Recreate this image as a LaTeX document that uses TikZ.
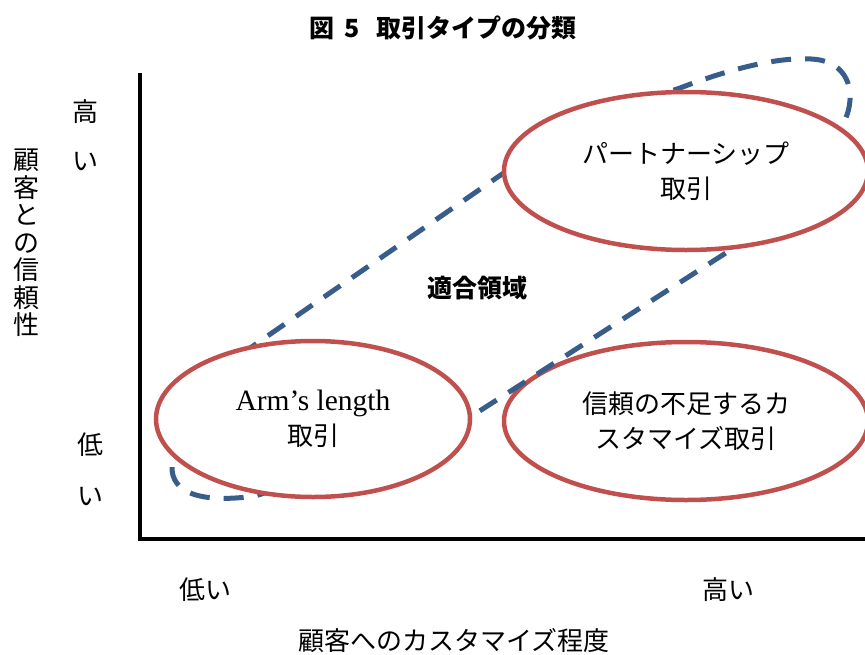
\documentclass[tikz,border=0pt]{standalone}
\usepackage{fontspec}
\usetikzlibrary{shapes.geometric}
\newfontfamily\jp{Noto Sans CJK JP}
\newfontfamily\lat{Liberation Serif}
\definecolor{ered}{HTML}{C0504D}
\definecolor{eblue}{HTML}{385D8A}
\begin{document}
\begin{tikzpicture}[x=1pt,y=-1pt,
  lbl/.style={font=\jp\fontsize{26}{35}\selectfont, inner sep=0pt, align=center},
  ttl/.style={font=\jp\bfseries\fontsize{25}{30}\selectfont, inner sep=0pt},
  oval/.style={ellipse, draw=ered, line width=4.5pt, fill=white, inner sep=0pt, align=center, font=\jp\fontsize{26}{35}\selectfont},
  fitline/.style={draw=eblue, line width=5pt, dash pattern=on 20pt off 14pt}]
\useasboundingbox (0,0) rectangle (865,654);
% axes
\coordinate (Ytop) at (140,73);
\coordinate (O) at (140,539);
\coordinate (Xend) at (868,539);
\draw[line width=4pt] (Ytop) -- (O) -- (Xend);
% lower right ellipse (under the dashed loop)
\node[oval, minimum width=364pt, minimum height=158pt] (lowtrust) at (686,421) {信頼の不足するカ\\スタマイズ取引};
% dashed fit region
\draw[fitline] (240,355) -- (505,172)
  .. controls (570,127) and (630,105) .. (680,88)
  .. controls (740,65) and (790,55) .. (820,60)
  .. controls (850,66) and (856,95) .. (845,120)
  .. controls (830,160) and (778,220) .. (718,258)
  -- (478,412) -- (300,482) -- (255,496)
  .. controls (205,503) and (170,495) .. (172,465) -- cycle;
% ellipses above the dashed loop
\node[oval, minimum width=314pt, minimum height=156pt] (arm) at (313,419) {{\lat\fontsize{29.5}{33}\selectfont Arm’s length}\\取引};
\node[oval, minimum width=364pt, minimum height=158pt] (partner) at (686,171) {パートナーシップ\\取引};
% labels
\node[ttl] (title) at (443,28) {図\hspace{10pt}5\hspace{16pt}取引タイプの分類};
\node[ttl] (fit) at (477,288) {適合領域};
\node[lbl] (yhi1) at (85,112) {高};
\node[lbl] (yhi2) at (85,162) {い};
\node[lbl] (ylo1) at (90,445) {低};
\node[lbl] (ylo2) at (90,497) {い};
\node[lbl, font=\jp\fontsize{26}{27.5}\selectfont] (ylab) at (26,243) {顧\\客\\と\\の\\信\\頼\\性};
\node[lbl] (xlo) at (205,590) {低い};
\node[lbl] (xhi) at (728,590) {高い};
\node[lbl] (xlab) at (454,641) {顧客へのカスタマイズ程度};
\end{tikzpicture}
\end{document}
